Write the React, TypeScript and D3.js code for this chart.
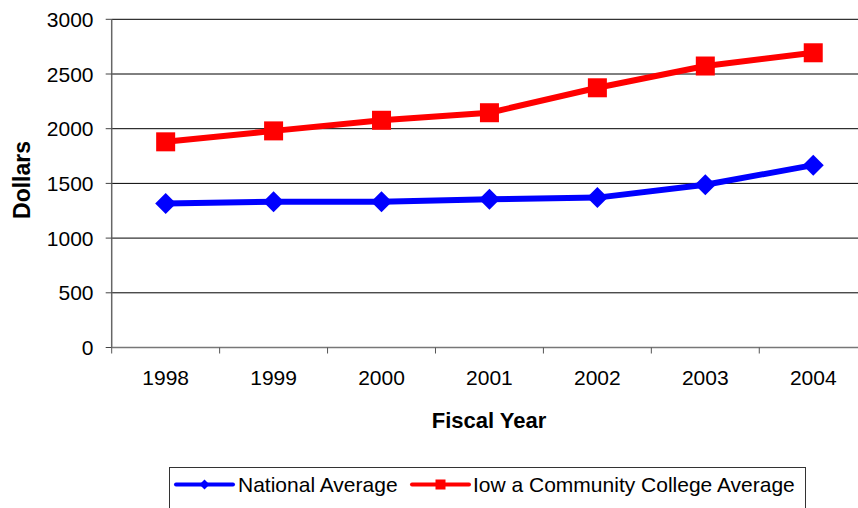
import React from "react";
import * as d3 from "d3";

const years = ["1998", "1999", "2000", "2001", "2002", "2003", "2004"];
const nationalAverage = [1317, 1332, 1332, 1354, 1370, 1488, 1667];
const iowaAverage = [1880, 1980, 2077, 2146, 2374, 2573, 2694];
const yTicks = [0, 500, 1000, 1500, 2000, 2500, 3000];
const seriesNames = ["National Average", "Iow a Community College Average"];

const W = 858;
const H = 508;
const plotLeft = 111.7;
const plotRight = 867.2;
const plotTop = 19.3;
const plotBottom = 347.5;
const FONT = "Arial, 'Liberation Sans', sans-serif";

export default function App() {
  const x = d3.scaleBand<string>().domain(years).range([plotLeft, plotRight]);
  const y = d3.scaleLinear().domain([0, 3000]).range([plotBottom, plotTop]);
  const cx = (yr: string) => (x(yr) as number) + x.bandwidth() / 2;

  const line = d3
    .line<number>()
    .x((_, i) => cx(years[i]))
    .y((d) => y(d));

  const diamond = (px: number, py: number, r: number) =>
    `M${px},${py - r}L${px + r},${py}L${px},${py + r}L${px - r},${py}Z`;

  return (
    <svg
      width={W}
      height={H}
      style={{ position: "absolute", left: 0, top: 0, background: "#fff" }}
      fontFamily={FONT}
    >
      <rect x={0} y={0} width={W} height={H} fill="#fff" />
      {/* gridlines */}
      {yTicks.slice(1).map((t) => (
        <line key={t} x1={plotLeft} x2={plotRight} y1={y(t)} y2={y(t)} stroke="#000" strokeWidth={1} />
      ))}
      {/* y axis */}
      <line x1={plotLeft} x2={plotLeft} y1={plotTop} y2={plotBottom} stroke="#666" strokeWidth={1.5} />
      {yTicks.map((t) => (
        <g key={"yt" + t}>
          <line x1={plotLeft - 6} x2={plotLeft} y1={y(t)} y2={y(t)} stroke="#444" strokeWidth={1} />
          <text x={93.5} y={y(t)} dy="0.36em" textAnchor="end" fontSize={21} fill="#000">
            {t}
          </text>
        </g>
      ))}
      {/* x axis */}
      <line x1={plotLeft} x2={plotRight} y1={plotBottom} y2={plotBottom} stroke="#777" strokeWidth={1.5} />
      {years.map((yr) => (
        <line
          key={"xt" + yr}
          x1={x(yr) as number}
          x2={x(yr) as number}
          y1={plotBottom}
          y2={plotBottom + 6}
          stroke="#555"
          strokeWidth={1}
        />
      ))}
      {years.map((yr) => (
        <text key={"xl" + yr} x={cx(yr)} y={385} textAnchor="middle" fontSize={21} fill="#000">
          {yr}
        </text>
      ))}
      {/* axis titles */}
      <text x={489} y={428.3} textAnchor="middle" fontSize={22} fontWeight="bold" fill="#000">
        Fiscal Year
      </text>
      <text
        transform={`translate(29.5,180) rotate(-90)`}
        textAnchor="middle"
        fontSize={23}
        fontWeight="bold"
        fill="#000"
      >
        Dollars
      </text>
      {/* series */}
      <path d={line(nationalAverage) || ""} fill="none" stroke="#0000FF" strokeWidth={6} strokeLinejoin="round" />
      {nationalAverage.map((v, i) => (
        <path key={"nd" + i} d={diamond(cx(years[i]), y(v), 10.5)} fill="#0000FF" />
      ))}
      <path d={line(iowaAverage) || ""} fill="none" stroke="#FF0000" strokeWidth={6} strokeLinejoin="round" />
      {iowaAverage.map((v, i) => (
        <rect key={"ir" + i} x={cx(years[i]) - 9.5} y={y(v) - 9.5} width={19} height={19} fill="#FF0000" />
      ))}
      {/* legend */}
      <rect x={169.5} y={467.5} width={636} height={60} fill="#fff" stroke="#333" strokeWidth={1} />
      <line x1={176} x2={233} y1={484.5} y2={484.5} stroke="#0000FF" strokeWidth={4} strokeLinecap="round" />
      <path d={diamond(204.5, 484.5, 5)} fill="#0000FF" />
      <text x={238} y={492} fontSize={21} fill="#000">
        {seriesNames[0]}
      </text>
      <line x1={412} x2={469} y1={484.5} y2={484.5} stroke="#FF0000" strokeWidth={4} strokeLinecap="round" />
      <rect x={435.5} y={479.5} width={10} height={10} fill="#FF0000" />
      <text x={473} y={492} fontSize={21} fill="#000">
        {seriesNames[1]}
      </text>
    </svg>
  );
}
